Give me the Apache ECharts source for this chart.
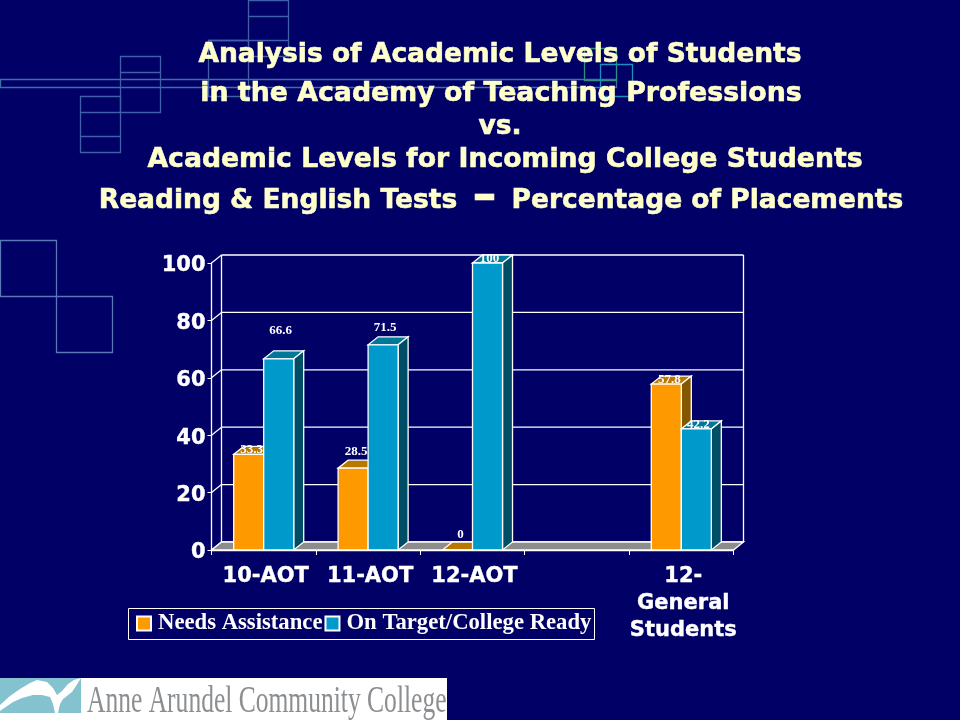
<!DOCTYPE html>
<html><head><meta charset="utf-8">
<style>html,body{margin:0;padding:0;background:#000066}#c{width:960px;height:720px}</style>
<script src="https://cdn.jsdelivr.net/npm/echarts@6/dist/echarts.min.js"></script>
</head><body><div id="c"></div>
<script>
const categories = ['10-AOT','11-AOT','12-AOT','','12-\nGeneral\nStudents'];
const needsAssistance = [33.3,28.5,0,null,57.8];
const onTarget = [66.6,71.5,100,null,42.2];
const yTicks = [0,20,40,60,80,100];
const seriesNames = ['Needs Assistance','On Target/College Ready'];
const titleLines = ['Analysis of Academic Levels of Students','in the Academy of Teaching Professions','vs.','Academic Levels for Incoming College Students'];
const labelLiftA = [5,17,16,0,5];
const labelLiftB = [29,18,5,0,5];

const DX = 10, DY = 8, FR = 0.2875, LW = 1.3;
const WHITE = '#ffffff';
function poly(pts, fill){
  return {type:'polygon',shape:{points:pts},style:{fill:fill,stroke:WHITE,lineWidth:LW}};
}
function barItem(side, front, topC, sideC, lifts){
  return function(params, api){
    const v = api.value(1);
    if (v === null || isNaN(v)) return null;
    const i = api.value(0);
    const base = api.coord([i,0]);
    const top = api.coord([i,v]);
    const w = api.size([1,0])[0]*FR;
    const x0 = base[0] + (side<0 ? -w : 0), x1 = x0 + w;
    const y0 = top[1], yb = base[1];
    const text = {
      type:'text',
      style:{text:String(v),x:x0+w/2+(side<0?3:2),y:y0-lifts[i]+0.5,align:'center',verticalAlign:'middle',
        fill:WHITE,font:'bold 13px "Liberation Serif"'},z2:50
    };
    return {type:'group',children:[
      poly([[x0,y0],[x1,y0],[x1+DX,y0-DY],[x0+DX,y0-DY]],topC),
      poly([[x1,y0],[x1+DX,y0-DY],[x1+DX,yb-DY],[x1,yb]],sideC),
      poly([[x0,y0],[x1,y0],[x1,yb],[x0,yb]],front),
      text
    ]};
  };
}
function wallItem(params, api){
  const v = api.value(0);
  const a = api.coord([0,v]);
  const w = api.size([1,0])[0];
  const left = a[0]-w/2, right = left + w*categories.length, y = a[1];
  const line = {stroke:WHITE,lineWidth:LW};
  const ch = [
    {type:'line',shape:{x1:left,y1:y,x2:left+DX,y2:y-DY},style:line},
    {type:'line',shape:{x1:left+DX,y1:y-DY,x2:right+DX,y2:y-DY},style:line}
  ];
  if (v === 0) {
    const b = api.coord([0,yTicks[yTicks.length-1]]);
    ch.push({type:'polygon',shape:{points:[[left,y],[right,y],[right+DX,y-DY],[left+DX,y-DY]]},style:{fill:'#8c8c8c',stroke:WHITE,lineWidth:LW}});
    ch.push({type:'line',shape:{x1:left+DX,y1:y-DY,x2:left+DX,y2:b[1]-DY},style:line});
    ch.push({type:'line',shape:{x1:right+DX,y1:y-DY,x2:right+DX,y2:b[1]-DY},style:line});
  }
  return {type:'group',children:ch};
}
function rect(x,y,w,h,c){return {type:'rect',silent:true,shape:{x:x+.5,y:y+.5,width:w,height:h},style:{fill:'none',stroke:c,lineWidth:1.3},z:-10};}
function hl(x1,x2,y,c){return {type:'line',silent:true,shape:{x1:x1,y1:y+.5,x2:x2,y2:y+.5},style:{stroke:c,lineWidth:1.3},z:-10};}
const B='#3f60a8', S='#5a78b8';
const birdOutline = [[0,705],[10,696],[20,689],[30,683],[37,680],[47,682],[53,688],[57,695],[62,691],[68,684],[74,680],[81,678],[76,686],[72,692],[63,699],[60,704],[58,713],[55,713],[53,704],[50,697],[42,695],[33,695],[22,698],[13,702],[0,711]];
const decoration = [
  rect(0,79,616,8,'#3a72a4'),
  rect(120,56,40,56,B),hl(120,160,72,B),
  rect(80,96,40,56,B),hl(80,120,112,B),hl(80,120,136,B),
  rect(248,0,40,56,B),hl(248,288,16,B),
  rect(208,40,40,56,B),hl(208,288,40,B),
  rect(584,48,32,32,'#2f8f80'),rect(600,64,32,32,'#1a8fc4'),
  rect(0,240,56,56,S),rect(56,296,56,56,S),
  {type:'rect',silent:true,shape:{x:0,y:678,width:447,height:42},style:{fill:'#ffffff'},z:-5},
  {type:'rect',silent:true,shape:{x:0,y:678,width:81,height:35},style:{fill:'#84c2d0'},z:-4},
  {type:'polygon',silent:true,shape:{points:birdOutline},style:{fill:'#ffffff'},z:-3},
  {type:'text',silent:true,z:-3,x:87,y:702,scaleX:0.69,style:{text:'Anne Arundel Community College',font:'37px "Liberation Serif"',fill:'#8c8f92',verticalAlign:'middle',align:'left'}},
  {type:'rect',silent:true,shape:{x:128.5,y:608.5,width:466,height:31},style:{fill:'none',stroke:WHITE,lineWidth:1}}
];
const titleFont = {fontFamily:'"DejaVu Sans"',fontWeight:'bold',fontSize:26.5,color:'#ffffcc',textBorderColor:'#ffffcc',textBorderWidth:0.6};
const titleY = [42,81,114,147];
const titleX = [500,501,500,505];
const titleSize = [26.5,26.8,26.5,26.7];
const titles = titleLines.map((t,i)=>({text:t,left:titleX[i],top:titleY[i],textAlign:'center',padding:0,textStyle:Object.assign({},titleFont,{fontSize:titleSize[i]})}));
titles.push({text:'Reading & English Tests {d|\u2013} Percentage of Placements',left:501,top:186,textAlign:'center',padding:0,
  textStyle:Object.assign({},titleFont,{rich:{d:{fontFamily:'"DejaVu Sans"',fontWeight:'bold',fontSize:48,color:'#ffffcc',lineHeight:30,padding:[0,6,6,6]}}})});

const chart = echarts.init(document.getElementById('c'));
chart.setOption({
  animation:false,
  backgroundColor:'#000066',
  title:titles,
  legend:{left:136,top:612,padding:0,itemGap:2,itemWidth:14,itemHeight:14,selectedMode:false,
    data:seriesNames.map(n=>({name:n,icon:'rect'})),
    textStyle:{color:WHITE,fontFamily:'"Liberation Serif"',fontWeight:'bold',fontSize:22.7,padding:[5,0,0,2]}},
  grid:{left:211.5,right:226.5,top:263,bottom:170,containLabel:false},
  xAxis:{type:'category',data:categories,boundaryGap:true,
    axisLine:{lineStyle:{color:WHITE,width:LW}},axisTick:{show:true,length:5,alignWithLabel:false,lineStyle:{color:WHITE}},
    axisLabel:{color:WHITE,fontFamily:'"DejaVu Sans"',fontWeight:'bold',fontSize:21,interval:0,margin:13,lineHeight:27,padding:[0,0,0,4],textBorderColor:WHITE,textBorderWidth:0.4}},
  yAxis:{type:'value',min:0,max:100,interval:20,
    axisLine:{show:true,lineStyle:{color:WHITE,width:LW}},axisTick:{show:true,length:4,lineStyle:{color:WHITE}},splitLine:{show:false},
    axisLabel:{color:WHITE,fontFamily:'"DejaVu Sans"',fontWeight:'bold',fontSize:21,margin:6,verticalAlign:'top',lineHeight:6,textBorderColor:WHITE,textBorderWidth:0.4}},
  graphic:decoration,
  series:[
    {type:'custom',name:'walls',silent:true,renderItem:wallItem,data:yTicks.map(v=>[v]),encode:{y:0},z:1,clip:false},
    {type:'custom',name:seriesNames[0],renderItem:barItem(-1,'#ff9900','#b87800','#855700',labelLiftA),
      data:needsAssistance.map((v,i)=>[i,v]),encode:{x:0,y:1},itemStyle:{color:'#ff9900',borderColor:WHITE,borderWidth:1},z:2,clip:false},
    {type:'custom',name:seriesNames[1],renderItem:barItem(1,'#0099cc','#00789c','#004d66',labelLiftB),
      data:onTarget.map((v,i)=>[i,v]),encode:{x:0,y:1},itemStyle:{color:'#0099cc',borderColor:WHITE,borderWidth:1},z:3,clip:false}
  ]
});
</script></body></html>
